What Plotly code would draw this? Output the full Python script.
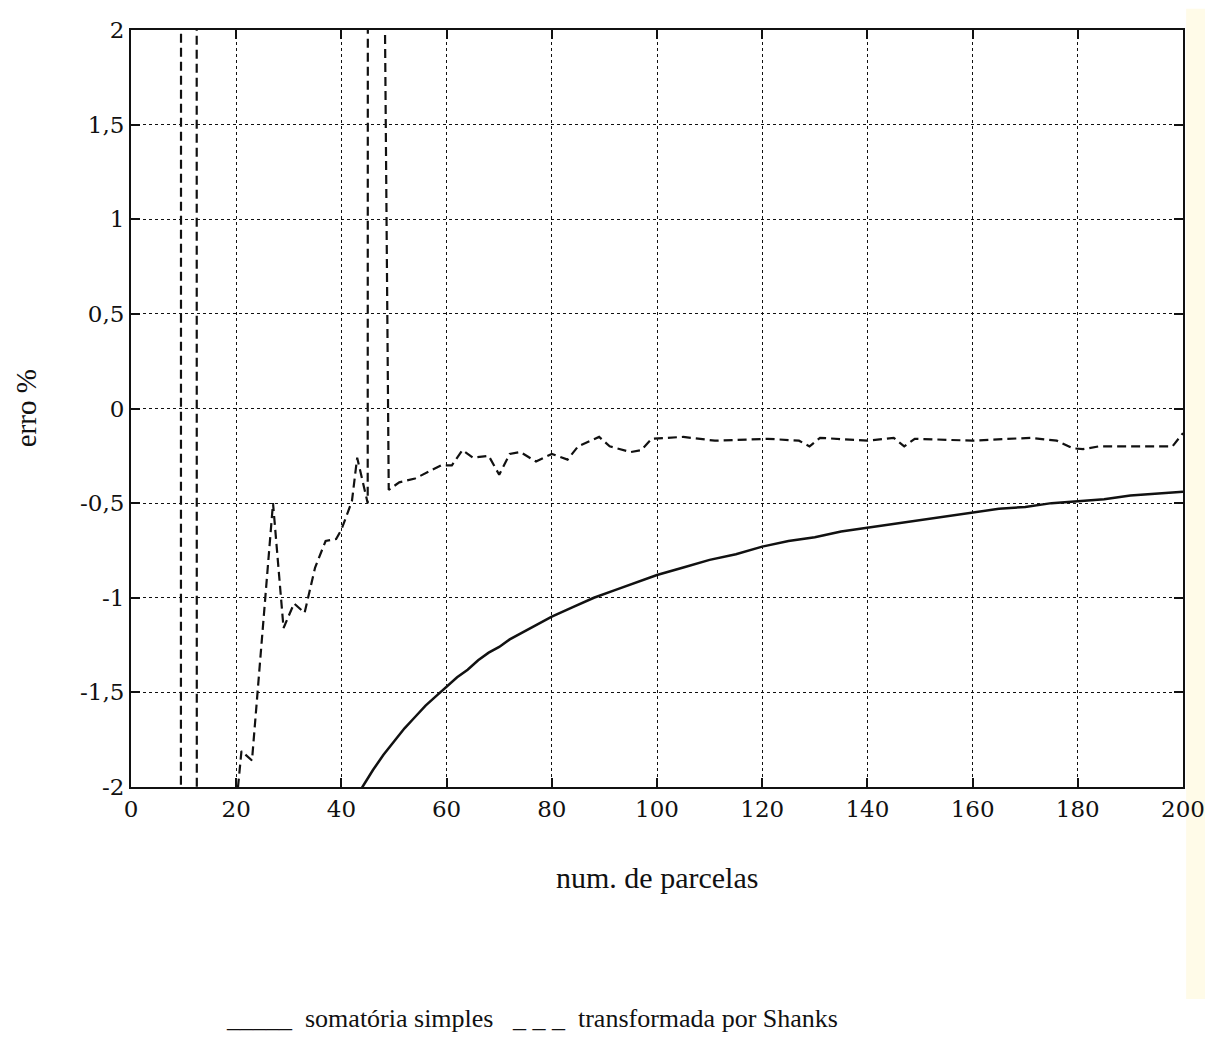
import plotly.graph_objects as go

# --- data ---
simples_x = [43, 44, 46, 48, 50, 52, 54, 56, 58, 60, 62, 64, 66, 68, 70, 72, 74, 76, 78, 80,
             84, 88, 92, 96, 100, 105, 110, 115, 120, 125, 130, 135, 140, 145, 150, 155,
             160, 165, 170, 175, 180, 185, 190, 195, 200]
simples_y = [-2.05, -2.00, -1.91, -1.83, -1.76, -1.69, -1.63, -1.57, -1.52, -1.47, -1.42, -1.38,
             -1.33, -1.29, -1.26, -1.22, -1.19, -1.16, -1.13, -1.10, -1.05, -1.00, -0.96, -0.92,
             -0.88, -0.84, -0.80, -0.77, -0.73, -0.70, -0.68, -0.65, -0.63, -0.61, -0.59, -0.57,
             -0.55, -0.53, -0.52, -0.50, -0.49, -0.48, -0.46, -0.45, -0.44]

shanks_x = [8, 9, 10, 12, 13, 20, 21, 23, 27, 29, 31, 33, 35, 37, 39, 40, 42, 43, 45, 46,
            47, 48, 49, 51, 54, 59, 61, 63, 65, 68, 70, 72, 74, 77, 80, 83, 85, 89, 91, 95,
            97, 99, 105, 111, 121, 127, 129, 131, 140, 145, 147, 149, 160, 171, 176, 179,
            181, 184, 198, 200]
shanks_y = [-100, -100, 100, 100, -100, -2.1, -1.81, -1.86, -0.50, -1.16, -1.03, -1.08, -0.84,
            -0.70, -0.69, -0.64, -0.49, -0.26, -0.50, 100, 100, 3.0, -0.43, -0.39, -0.37, -0.30,
            -0.30, -0.22, -0.26, -0.25, -0.35, -0.24, -0.23, -0.28, -0.24, -0.27, -0.20, -0.15,
            -0.20, -0.23, -0.22, -0.16, -0.15, -0.17, -0.16, -0.17, -0.20, -0.155, -0.17,
            -0.155, -0.20, -0.16, -0.17, -0.155, -0.17, -0.21, -0.215, -0.20, -0.20, -0.13]

x_ticks = [0, 20, 40, 60, 80, 100, 120, 140, 160, 180, 200]
y_ticks = [-2, -1.5, -1, -0.5, 0, 0.5, 1, 1.5, 2]
y_tick_text = ["-2", "-1,5", "-1", "-0,5", "0", "0,5", "1", "1,5", "2"]

SERIF = "Liberation Serif, Times New Roman, serif"
TICKFONT = "DejaVu Serif, serif"

fig = go.Figure()
fig.add_trace(go.Scatter(x=simples_x, y=simples_y, mode="lines",
                         line=dict(color="#111111", width=2.5),
                         name="somatória simples", showlegend=False))
fig.add_trace(go.Scatter(x=shanks_x, y=shanks_y, mode="lines",
                         line=dict(color="#111111", width=2.2, dash="9px,5px"),
                         name="transformada por Shanks", showlegend=False))

axis_common = dict(showline=True, linecolor="#111111", linewidth=2, mirror="ticks",
                   ticks="inside", ticklen=9, tickwidth=2, tickcolor="#111111",
                   showgrid=True, gridcolor="#111111", gridwidth=1.4, griddash="dot",
                   zeroline=False, automargin=False, ticklabeloverflow="allow",
                   tickfont=dict(family=TICKFONT, size=23, color="#111111"))

fig.update_xaxes(range=[0, 200], tickvals=x_ticks, **axis_common)
fig.update_yaxes(range=[-2, 2], tickvals=y_ticks, ticktext=y_tick_text, **axis_common)

fig.update_layout(
    width=1197, height=1028,
    margin=dict(l=123, r=22, t=22, b=249, autoexpand=False),
    paper_bgcolor="white", plot_bgcolor="white",
    showlegend=False,
    shapes=[
        dict(type="rect", xref="paper", yref="paper", x0=1.003, x1=1.021, y0=-0.28, y1=1.028,
             fillcolor="#fffbe8", line=dict(width=0), layer="below"),
    ],
    annotations=[
        dict(text="num. de parcelas", xref="paper", yref="paper", x=0.5, y=-0.120,
             xanchor="center", yanchor="middle", showarrow=False,
             font=dict(family=SERIF, size=30, color="#111111")),
        dict(text="erro %", xref="paper", yref="paper", x=-0.1, y=0.5,
             xanchor="center", yanchor="middle", showarrow=False, textangle=-90,
             font=dict(family=SERIF, size=29, color="#111111")),
        dict(text="_____  somatória simples   _ _ _  transformada por Shanks",
             xref="paper", yref="paper", x=0.381, y=-0.3276,
             xanchor="center", yanchor="bottom", showarrow=False,
             font=dict(family=SERIF, size=26, color="#111111")),
    ],
)

fig.write_html("out.html")
